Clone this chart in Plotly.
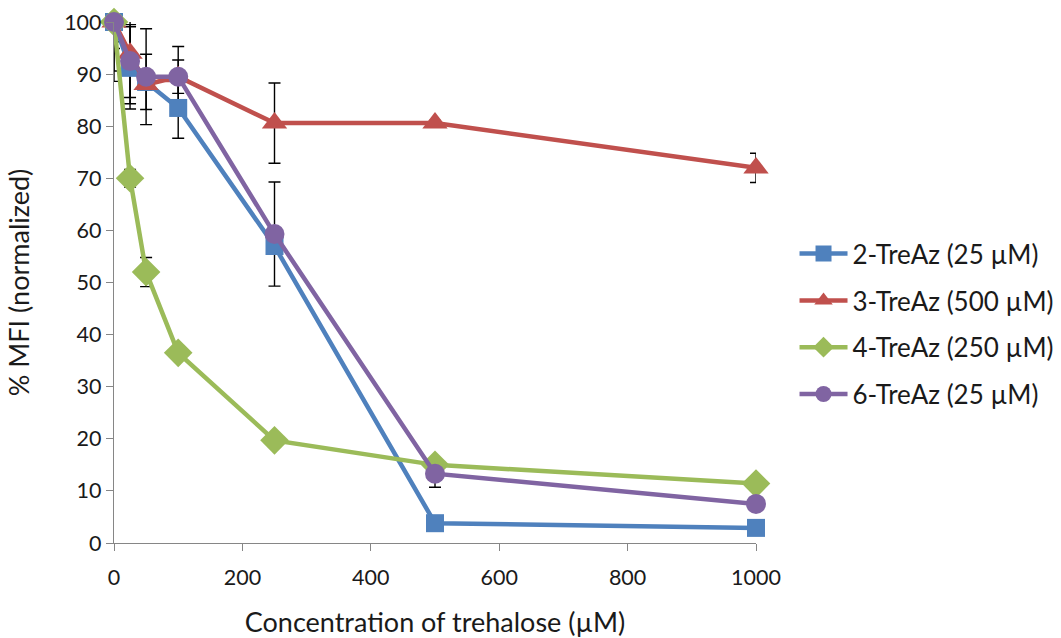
import plotly.graph_objects as go

conc = [0, 25, 50, 100, 250, 500, 1000]

names = ["2-TreAz (25 µM)", "3-TreAz (500 µM)", "4-TreAz (250 µM)", "6-TreAz (25 µM)"]
colors = ["#4F81BD", "#C0504D", "#9BBB59", "#8064A2"]
symbols = ["square", "triangle-up", "diamond", "circle"]

tre2 = [100, 91.2, 88.5, 83.5, 57.0, 3.8, 2.9]
tre3 = [100, 94.0, 88.0, 89.5, 80.6, 80.6, 72.0]
tre4 = [100, 70.0, 52.0, 36.5, 19.7, 15.0, 11.4]
tre6 = [100, 92.5, 89.5, 89.5, 59.3, 13.3, 7.5]

err2 = [5.1, 7.9, 5.3, 5.8, 1.0, 0.5, 0.5]
err3 = [11.4, 9.7, 1.0, 3.2, 7.7, 0.5, 2.8]
err4 = [3.8, 1.7, 2.8, 0.5, 0.5, 0.5, 0.5]
err6 = [9.4, 7.0, 9.2, 5.8, 10.0, 2.6, 0.5]

series = [tre2, tre3, tre4, tre6]
errors = [err2, err3, err4, err6]
msizes = [18, 22, 22, 20]

fig = go.Figure()

for i in range(4):
    fig.add_trace(go.Scatter(
        x=conc, y=series[i], mode="markers",
        marker=dict(size=0.1, color="rgba(0,0,0,0)"),
        error_y=dict(type="data", array=errors[i], visible=True,
                     color="#000000", thickness=1.4, width=6),
        showlegend=False, hoverinfo="skip", cliponaxis=True,
    ))

for i in range(4):
    fig.add_trace(go.Scatter(
        x=conc, y=series[i], mode="lines+markers", name=names[i],
        line=dict(color=colors[i], width=4.5),
        marker=dict(symbol=symbols[i], size=msizes[i], color=colors[i],
                    line=dict(width=0)),
        cliponaxis=False, legendgroup=str(i),
    ))

FONT = "Lato"
TXT = "#1a1a1a"
axis_font = dict(family=FONT, size=21.5, color=TXT)

fig.update_layout(
    width=1061, height=638,
    margin=dict(l=114, r=305, t=22, b=95, autoexpand=False),
    paper_bgcolor="white", plot_bgcolor="white",
    font=dict(family=FONT, color=TXT),
    showlegend=True,
    legend=dict(x=1.06, y=0.42, xanchor="left", yanchor="middle",
                font=dict(family=FONT, size=26, color=TXT),
                tracegroupgap=10, itemwidth=48,
                bgcolor="rgba(0,0,0,0)"),
    xaxis=dict(range=[0, 1000], tickmode="linear", tick0=0, dtick=200,
               showgrid=False, zeroline=False, showline=True,
               linecolor="#868686", linewidth=1.3, automargin=False,
               ticks="outside", ticklen=7, tickcolor="#868686",
               tickfont=axis_font, ticklabelstandoff=8,
               title=dict(text="Concentration of trehalose (µM)",
                          font=dict(family=FONT, size=27, color=TXT),
                          standoff=30)),
    yaxis=dict(range=[0, 100], tickmode="linear", tick0=0, dtick=10,
               showgrid=False, zeroline=False, showline=True,
               linecolor="#868686", linewidth=1.3, automargin=False,
               ticks="outside", ticklen=7, tickcolor="#868686",
               tickfont=axis_font,
               title=dict(text="% MFI (normalized)",
                          font=dict(family=FONT, size=27, color=TXT),
                          standoff=26)),
)

fig.write_html("out.html")
